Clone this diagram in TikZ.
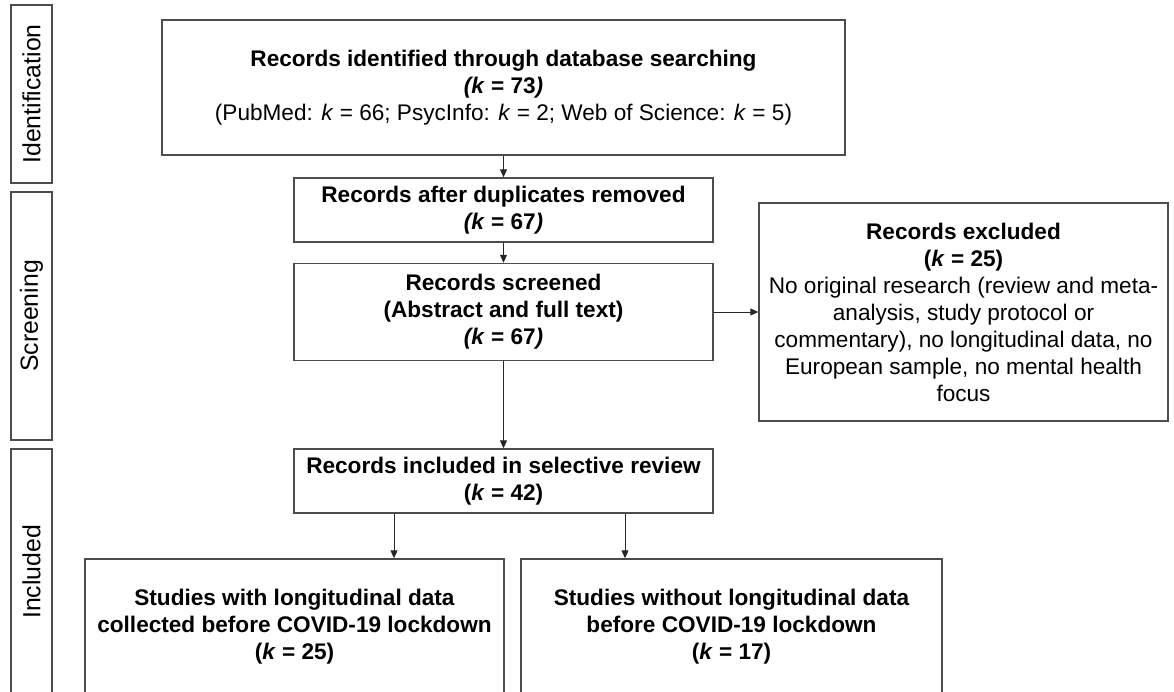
\documentclass[tikz,border=0pt]{standalone}
\usepackage{fontspec}
\setmainfont{Liberation Sans}
\usetikzlibrary{arrows.meta}

\begin{document}
\begin{tikzpicture}[x=1pt,y=-1pt,
    box/.style={draw=black!70,line width=1.4pt,inner sep=0pt,align=center,
        font=\fontsize{22.6}{27}\selectfont},
    phase/.style={draw=black!70,line width=1.4pt,inner sep=0pt,rotate=90,
        minimum height=41pt,font=\fontsize{24.8}{28}\selectfont},
    arr/.style={-{Triangle[length=8pt,width=7pt]},line width=1pt,black!85}]
    \useasboundingbox (0,0) rectangle (1174,692);

    \node[phase,minimum width=178pt] (idphase) at (31.5,94) {Identification};
    \node[phase,minimum width=248pt] (scphase) at (31.5,316) {Screening};
    \node[phase,minimum width=246pt] (inphase) at (31.5,572) {Included};

    \node[box,minimum width=683pt,minimum height=135pt] (ident) at (503.5,87.5)
        {\textbf{Records identified through database searching}\\
         \textbf{\textit{(k} = 73\textit{)}}\\
         (PubMed: \textit{k} = 66; PsycInfo: \textit{k} = 2; Web of Science: \textit{k} = 5)};

    \node[box,minimum width=419pt,minimum height=64pt] (dup) at (503.5,210)
        {\textbf{Records after duplicates removed}\\
         \textbf{\textit{(k} = 67\textit{)}}};

    \node[box,minimum width=419pt,minimum height=97pt] (screen) at (503.5,312)
        {\textbf{Records screened}\\
         \textbf{(Abstract and full text)}\\
         \textbf{\textit{(k} = 67\textit{)}}};

    \node[box,minimum width=409pt,minimum height=218pt] (excl) at (963.5,312)
        {\textbf{Records excluded}\\
         \textbf{(\textit{k} = 25)}\\
         No original research (review and meta-\\
         analysis, study protocol or\\
         commentary), no longitudinal data, no\\
         European sample, no mental health\\
         focus};

    \node[box,minimum width=419pt,minimum height=64pt] (incl) at (503.5,481)
        {\textbf{Records included in selective review}\\
         \textbf{(\textit{k} = 42)}};

    \node[box,minimum width=419pt,minimum height=136pt] (with) at (294.5,627)
        {\textbf{Studies with longitudinal data}\\
         \textbf{collected before COVID-19 lockdown}\\
         \textbf{(\textit{k} = 25)}};

    \node[box,minimum width=421pt,minimum height=136pt] (without) at (731.5,627)
        {\textbf{Studies without longitudinal data}\\
         \textbf{before COVID-19 lockdown}\\
         \textbf{(\textit{k} = 17)}};

    \draw[arr] (ident) -- (dup);
    \draw[arr] (dup) -- (screen);
    \draw[arr] (screen) -- (incl);
    \draw[arr] (screen) -- (excl);

    \draw[arr] ([xshift=-109.5pt]incl.south) -- ([xshift=-109.5pt]incl.south |- with.north);
    \draw[arr] ([xshift=121.5pt]incl.south) -- ([xshift=121.5pt]incl.south |- without.north);
\end{tikzpicture}
\end{document}
